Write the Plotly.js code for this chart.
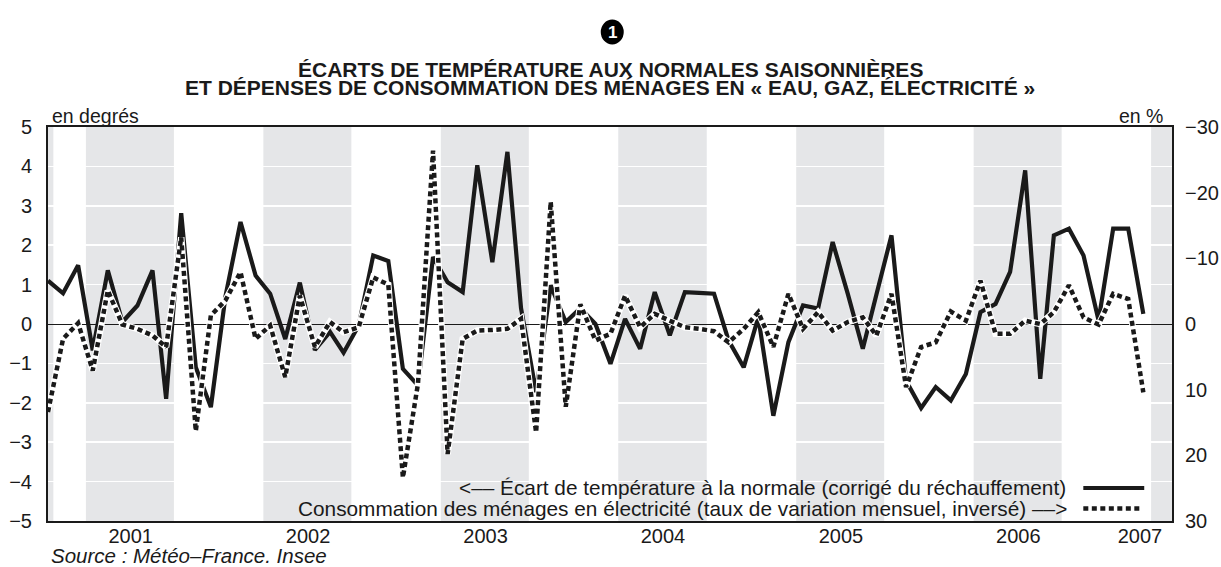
<!DOCTYPE html>
<html>
<head>
<meta charset="utf-8">
<script src="https://cdn.plot.ly/plotly-3.0.1.min.js"></script>
<style>
  html, body { margin: 0; padding: 0; background: #ffffff; }
  #chart { width: 1221px; height: 567px; }
</style>
</head>
<body>
<div id="chart"></div>
<script>
// ---- Data (monthly, July 2000 -> September 2006) ----
const startYear = 2000;
const startMonth = 7; // July
const nMonths = 75;
const months = [];
for (let i = 0; i < nMonths; i++) {
  const k = startMonth - 1 + i;
  const y = startYear + Math.floor(k / 12);
  const m = (k % 12) + 1;
  months.push(y + '-' + String(m).padStart(2, '0') + '-15');
}

// Écart de température à la normale (corrigé du réchauffement), en degrés
const tempDeviation = [
  1.1, 0.78, 1.49, -0.67, 1.36, 0.05, 0.47, 1.36, -1.9, 2.81, -1.1, -2.11,
  0.7, 2.59, 1.23, 0.77, -0.38, 1.05, -0.66, -0.2, -0.73, -0.04, 1.74, 1.6,
  -1.14, -1.56, 1.7, 1.06, 0.81, 4.03, 1.57, 4.37, 0.4, -1.73, 0.98, 0.05,
  0.4, 0.0, -1.01, 0.13, -0.63, 0.81, -0.29, 0.81, 0.79, 0.77, -0.42, -1.1,
  0.17, -2.33, -0.46, 0.47, 0.39, 2.08, 0.77, -0.63, 0.75, 2.25, -1.44, -2.13,
  -1.6, -1.94, -1.27, 0.3, 0.51, 1.32, 3.9, -1.39, 2.25, 2.42, 1.74, 0.09,
  2.42, 2.42, 0.26
];

// Consommation des ménages en électricité, taux de variation mensuel (%), axe inversé
const elecChange = [
  13.4, 2.26, -0.13, 7.1, -5.1, 0.08, 0.74, 1.75, 3.5, -13.2, 16.3, -1.3,
  -3.6, -7.9, 2.26, 0.23, 8.1, -4.3, 3.5, -0.3, 1.25, 0.5, -7.1, -6.0,
  23.4, 9.1, -26.4, 19.8, 2.26, 1.0, 0.9, 0.74, -0.8, 16.5, -18.6, 12.6,
  -3.0, 2.5, 1.5, -4.3, 0.5, -1.55, -0.5, 0.5, 0.74, 1.1, 2.8, 0.74,
  -1.8, 3.5, -4.6, 0.74, -1.8, 1.0, -0.3, -1.0, 1.75, -4.6, 9.6, 3.5,
  2.8, -1.9, -0.5, -6.6, 1.5, 1.5, -0.5, 0.0, -1.8, -5.9, -1.0, 0.08,
  -4.6, -3.8, 10.4
];

// Shaded winter periods (October -> March)
const bandStarts = ['2000-07-15', '2000-10-01', '2001-10-01', '2002-10-01', '2003-10-01', '2004-10-01', '2005-10-01', '2006-10-01'];
const bandEnds   = ['2000-07-26', '2001-03-31', '2002-03-31', '2003-03-31', '2004-03-31', '2005-03-31', '2006-03-31', '2006-11-13'];

const xTickVals = ['2001-01-01', '2002-01-01', '2003-01-01', '2004-01-01', '2005-01-01', '2006-01-01', '2006-09-08'];
const xTickText = ['2001', '2002', '2003', '2004', '2005', '2006', '2007'];

const leftTicks = [5, 4, 3, 2, 1, 0, -1, -2, -3, -4, -5];
const rightTicks = [-30, -20, -10, 0, 10, 20, 30];

// ---- Styles ----
const FONT = 'Liberation Sans, Arial, Helvetica, sans-serif';
const INK = '#1a1a1a';
const BAND = '#e5e6e8';
const DOTDASH = '5px,3.5px';

const traces = [
  {
    x: months, y: tempDeviation, type: 'scatter', mode: 'lines',
    line: { color: INK, width: 4.2 }, yaxis: 'y', hoverinfo: 'skip', showlegend: false
  },
  {
    x: months, y: elecChange, type: 'scatter', mode: 'lines',
    line: { color: '#ffffff', width: 6.5 }, yaxis: 'y2', hoverinfo: 'skip', showlegend: false
  },
  {
    x: months, y: elecChange, type: 'scatter', mode: 'lines',
    line: { color: INK, width: 4.5, dash: DOTDASH }, yaxis: 'y2', hoverinfo: 'skip', showlegend: false
  }
];

const shapes = bandStarts.map((s, i) => ({
  type: 'rect', xref: 'x', yref: 'paper', x0: s, x1: bandEnds[i], y0: 0, y1: 1,
  fillcolor: BAND, line: { width: 0 }, layer: 'below'
}));

// legend samples
shapes.push({ type: 'line', xref: 'paper', yref: 'paper', x0: 0.9211, x1: 0.9753, y0: 0.0838, y1: 0.0838,
  line: { color: INK, width: 4.2 }, layer: 'above' });
shapes.push({ type: 'line', xref: 'paper', yref: 'paper', x0: 0.9211, x1: 0.9720, y0: 0.0317, y1: 0.0317,
  line: { color: INK, width: 4.5, dash: DOTDASH }, layer: 'above' });

// numbered black circle above the title
shapes.push({ type: 'circle', xref: 'paper', yref: 'paper', xsizemode: 'pixel', ysizemode: 'pixel',
  xanchor: 0.502, yanchor: 1.2411, x0: -11.5, x1: 11.5, y0: -12.5, y1: 12.5,
  fillcolor: '#000000', line: { width: 0 }, layer: 'above' });

const annotations = [
  { text: '1', xref: 'paper', yref: 'paper', x: 0.502, y: 1.2411, xanchor: 'center', yanchor: 'middle',
    showarrow: false, font: { family: FONT, size: 17, color: '#ffffff', weight: 'bold' } },
  { text: 'ÉCARTS DE TEMPÉRATURE AUX NORMALES SAISONNIÈRES', xref: 'paper', yref: 'paper', x: 0.5, y: 1.1447,
    xanchor: 'center', yanchor: 'middle', showarrow: false,
    font: { family: FONT, size: 21, color: INK, weight: 'bold' } },
  { text: 'ET DÉPENSES DE CONSOMMATION DES MÉNAGES EN « EAU, GAZ, ÉLECTRICITÉ »', xref: 'paper', yref: 'paper', x: 0.5, y: 1.099,
    xanchor: 'center', yanchor: 'middle', showarrow: false,
    font: { family: FONT, size: 21, color: INK, weight: 'bold' } },
  { text: 'en degrés', xref: 'paper', yref: 'paper', x: 0.002, y: 1.028, xanchor: 'left', yanchor: 'middle',
    showarrow: false, font: { family: FONT, size: 19.5, color: INK } },
  { text: 'en %', xref: 'paper', yref: 'paper', x: 0.9935, y: 1.028, xanchor: 'right', yanchor: 'middle',
    showarrow: false, font: { family: FONT, size: 19.5, color: INK } },
  { text: '<–– Écart de température à la normale (corrigé du réchauffement)', xref: 'paper', yref: 'paper',
    x: 0.9075, y: 0.0838, xanchor: 'right', yanchor: 'middle', showarrow: false,
    font: { family: FONT, size: 20.8, color: INK } },
  { text: 'Consommation des ménages en électricité (taux de variation mensuel, inversé) ––>', xref: 'paper', yref: 'paper',
    x: 0.9085, y: 0.0317, xanchor: 'right', yanchor: 'middle', showarrow: false,
    font: { family: FONT, size: 20.8, color: INK } },
  { text: '<i>Source : Météo–France. Insee</i>', xref: 'paper', yref: 'paper', x: 0.001, y: -0.1218,
    xanchor: 'left', yanchor: 'bottom', showarrow: false,
    font: { family: FONT, size: 20.5, color: INK } }
];

const layout = {
  width: 1221, height: 567,
  margin: { l: 48, r: 49, t: 127, b: 46, pad: 0 },
  paper_bgcolor: '#ffffff', plot_bgcolor: '#ffffff',
  showlegend: false,
  font: { family: FONT, size: 20, color: INK },
  xaxis: {
    type: 'date', range: ['2000-07-15', '2006-11-13'],
    tickmode: 'array', tickvals: xTickVals, ticktext: xTickText,
    showgrid: false, zeroline: false, ticks: '',
    showline: true, mirror: true, linecolor: INK, linewidth: 2,
    tickfont: { family: FONT, size: 20, color: INK }, ticklabelstandoff: -4
  },
  yaxis: {
    range: [-5, 5], tickmode: 'array', tickvals: leftTicks,
    showgrid: true, gridcolor: '#ffffff', gridwidth: 1.5,
    zeroline: true, zerolinecolor: INK, zerolinewidth: 1,
    ticks: '', showline: true, mirror: true, linecolor: INK, linewidth: 2,
    tickfont: { family: FONT, size: 20, color: INK }, ticklabelstandoff: 10
  },
  yaxis2: {
    overlaying: 'y', side: 'right', range: [30, -30], tickmode: 'array', tickvals: rightTicks,
    showgrid: false, zeroline: false, ticks: '', showline: false,
    tickfont: { family: FONT, size: 20, color: INK }, ticklabelstandoff: 12
  },
  shapes: shapes,
  annotations: annotations
};

Plotly.newPlot('chart', traces, layout, { displayModeBar: false, staticPlot: true });
</script>
</body>
</html>
